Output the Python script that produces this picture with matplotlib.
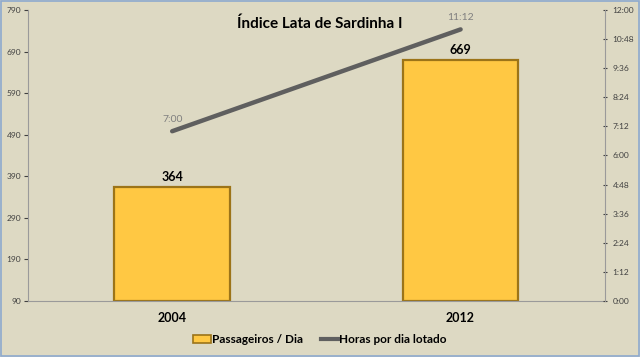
import numpy as np
import matplotlib.pyplot as plt
from matplotlib.ticker import FuncFormatter
from matplotlib.lines import Line2D
from matplotlib.patches import Patch, Rectangle

plt.rcParams['font.family'] = ['Lato', 'DejaVu Sans']

years = ['2004', '2012']
passengers = [364, 669]
hours = [7.0, 11.2]          # hours per day crowded
hour_labels = ['7:00', '11:12']
left_ticks = [90, 190, 290, 390, 490, 590, 690, 790]
right_ticks = [0, 1.2, 2.4, 3.6, 4.8, 6.0, 7.2, 8.4, 9.6, 10.8, 12.0]

bg = '#DDD9C3'
fig = plt.figure(figsize=(6.4, 3.57), dpi=100, facecolor=bg)
fig.patches.append(Rectangle((0.001, 0.002), 0.997, 0.995, transform=fig.transFigure,
                             fill=False, edgecolor='#8DA9CF', linewidth=1.2))
ax = fig.add_axes([0.0437, 0.157, 0.9013, 0.815])
ax.set_facecolor(bg)

x = np.arange(len(years))
bars = ax.bar(x, [p - 90 for p in passengers], bottom=90, width=0.4,
              color='#FFC843', edgecolor='#9C7418', linewidth=1.6, zorder=2)
ax.set_xlim(-0.5, 1.5)
ax.set_ylim(90, 790)
ax.set_yticks(left_ticks)
ax.set_xticks(x)
ax.set_xticklabels(years, fontsize=9, fontweight='bold', color='black')
ax.tick_params(axis='y', labelsize=6, colors='#404040', length=3, direction='out', pad=2)
ax.tick_params(axis='x', length=0, pad=8)
for s in ['top', 'right']:
    ax.spines[s].set_visible(False)
for s in ['left', 'bottom']:
    ax.spines[s].set_color('#9A9A9A')
for xi, p in zip(x, passengers):
    ax.text(xi, p + 10, str(p), ha='center', va='bottom', fontsize=9,
            fontweight='bold', color='black')

ax2 = ax.twinx()
ax2.plot(x, hours, color='#5F5F5F', linewidth=3.2, solid_capstyle='round', zorder=3)
ax2.set_ylim(0, 12)
ax2.set_yticks(right_ticks)
ax2.yaxis.set_major_formatter(FuncFormatter(
    lambda v, p: '%d:%02d' % (int(v + 1e-9), round((v - int(v + 1e-9)) * 60))))
ax2.tick_params(axis='y', labelsize=6, colors='#404040', length=3, direction='inout', pad=4)
for s in ['top', 'left', 'bottom']:
    ax2.spines[s].set_visible(False)
ax2.spines['right'].set_color('#9A9A9A')
for xi, h, lab in zip(x, hours, hour_labels):
    ax2.text(xi, h + 0.3, lab, ha='center', va='bottom', fontsize=7.5, color='#7F7F7F')

fig.text(0.5, 0.955, 'Índice Lata de Sardinha I', ha='center', va='top',
         fontsize=11, fontweight='bold')

handles = [Patch(facecolor='#FFC843', edgecolor='#9C7418', linewidth=1.2),
           Line2D([0], [0], color='#5F5F5F', linewidth=3)]
fig.legend(handles, ['Passageiros / Dia', 'Horas por dia lotado'], loc='center',
           bbox_to_anchor=(0.5, 0.048), ncol=2, frameon=False,
           prop={'weight': 'bold', 'size': 8.5}, handlelength=1.5, handletextpad=0.1,
           columnspacing=1.5)

fig.savefig('out.png', dpi=100, facecolor=bg)
